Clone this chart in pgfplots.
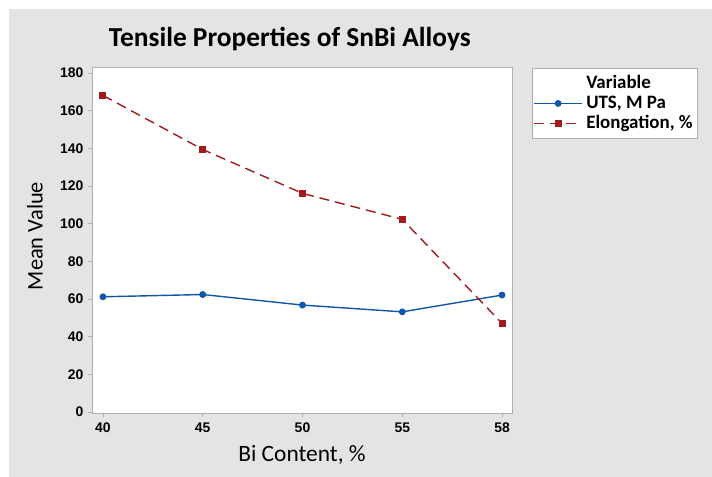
\documentclass[border=0pt]{standalone}
\usepackage{fontspec}
\usepackage{pgfplots}
\pgfplotsset{compat=1.18}
\setmainfont{Carlito}
\newfontfamily\arialf{Liberation Sans}

\definecolor{bggray}{RGB}{228,228,228}
\definecolor{framegray}{RGB}{175,175,175}
\definecolor{utsblue}{RGB}{16,86,170}
\definecolor{elored}{RGB}{160,26,30}

\begin{document}
\begin{tikzpicture}[x=1bp,y=1bp]
% page background: white strip top/left, grey panel
\fill[white] (0,0) rectangle (712,477);
\fill[bggray] (9,-10) rectangle (722,468);

\begin{axis}[
  at={(92bp,64bp)}, anchor=south west,
  scale only axis,
  width=420bp, height=346bp,
  xmin=-0.11, xmax=4.1,
  ymin=-0.5, ymax=183.2,
  xtick={0,1,2,3,4},
  xticklabels={40,45,50,55,58},
  ytick={0,20,...,180},
  axis background/.style={fill=white},
  axis line style={draw=framegray, line width=0.8bp},
  tick style={draw=framegray, line width=0.8bp},
  tick align=outside,
  major tick length=4bp,
  xtick pos=bottom, ytick pos=left,
  /pgf/number format/assume math mode=true,
  tick label style={font=\arialf\bfseries\fontsize{14}{16}\selectfont},
  yticklabel style={xshift=-1bp},
  xticklabel style={yshift=-2bp},
  title={\bfseries Tensile Properties of SnBi Alloys},
  title style={font=\fontsize{27.5}{31}\selectfont, at={(axis description cs:0.471,1.0413)}, anchor=base},
  xlabel={Bi Content, \%},
  xlabel style={font=\fontsize{23.5}{27}\selectfont, at={(axis description cs:0.5,-0.1214)}, anchor=center},
  ylabel={Mean Value},
  ylabel style={font=\fontsize{22.5}{26}\selectfont, at={(axis description cs:-0.1357,0.5116)}, anchor=center},
  legend cell align=left,
  legend image code/.code={
    \draw[mark repeat=2,mark phase=2,#1] plot coordinates {(0bp,0bp) (24bp,0bp) (48bp,0bp)};
  },
  legend style={
    at={(axis description cs:1.0476,0.997)}, anchor=north west,
    draw=framegray, line width=0.8bp, fill=white,
    font=\bfseries\fontsize{19}{21}\selectfont,
    inner xsep=1bp, inner ysep=5bp,
    nodes={text height=14bp, text depth=3bp, inner ysep=1.5bp, inner xsep=3.5bp},
  },
]
\addlegendimage{empty legend}
\addlegendentry{Variable}

\addplot[color=utsblue, line width=1.4bp, mark=*, mark size=2.7bp,
  mark options={solid, fill=utsblue}] coordinates {
  (0, 61.2) (1, 62.4) (2, 56.8) (3, 53.2) (4, 62.1)
};
\addlegendentry{UTS, M Pa}

\addplot[color=elored, line width=1.4bp, dash pattern=on 10bp off 6bp,
  mark=square*, mark size=2.8bp, mark options={solid, fill=elored}] coordinates {
  (0, 168.1) (1, 139.4) (2, 116.1) (3, 102.3) (4, 47.1)
};
\addlegendentry{Elongation, \%}
\end{axis}
\pgfresetboundingbox
\path[use as bounding box] (0,0) rectangle (712,477);
\end{tikzpicture}
\end{document}
